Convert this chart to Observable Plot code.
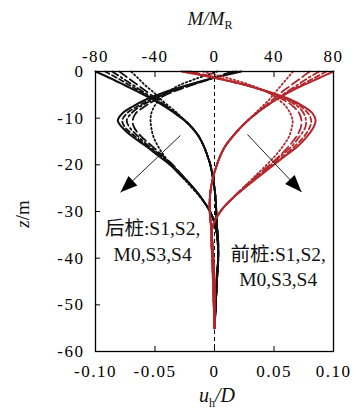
<!DOCTYPE html>
<html><head><meta charset="utf-8">
<script src="https://cdn.jsdelivr.net/npm/d3@7"></script>
<script src="https://cdn.jsdelivr.net/npm/@observablehq/plot@0.6"></script>
<style>
body{margin:0;background:#fff}
svg.chart, svg.chart text{font-family:"Liberation Serif","Times New Roman","Noto Sans CJK SC",serif}
.chart g[aria-label$="tick label"] text{letter-spacing:1.5px}
</style>
</head><body><div id="chart"></div>
<script>
// ---- data ----
const series = ["S1", "S2", "M0", "S3", "S4"];
const depthZ = [0, -1.5, -3, -4.5, -6, -7.5, -9, -10.5, -12, -14, -16, -18, -20, -22.5, -25, -27.5, -30, -33, -36, -40, -45, -50, -55];

// rear pile (后桩) deflection u_h/D, rows = S1,S2,M0,S3,S4
const rearDeflection = [
  [-0.070, -0.064, -0.058, -0.051, -0.045, -0.038, -0.031, -0.025, -0.019, -0.013, -0.009, -0.006, -0.0035, -0.0015, 0, 0.001, 0.0015, 0.002, 0.003, 0.003, 0.002, 0.001, 0],
  [-0.080, -0.072, -0.064, -0.056, -0.048, -0.040, -0.032, -0.025, -0.019, -0.013, -0.009, -0.006, -0.0035, -0.0015, 0, 0.001, 0.0015, 0.002, 0.003, 0.003, 0.002, 0.001, 0],
  [-0.086, -0.077, -0.068, -0.059, -0.050, -0.041, -0.033, -0.025, -0.019, -0.013, -0.009, -0.006, -0.0035, -0.0015, 0, 0.001, 0.0015, 0.002, 0.003, 0.003, 0.002, 0.001, 0],
  [-0.092, -0.081, -0.071, -0.061, -0.051, -0.041, -0.033, -0.025, -0.019, -0.013, -0.009, -0.006, -0.0035, -0.0015, 0, 0.001, 0.0015, 0.002, 0.003, 0.003, 0.002, 0.001, 0],
  [-0.100, -0.087, -0.075, -0.063, -0.052, -0.042, -0.033, -0.025, -0.019, -0.013, -0.009, -0.006, -0.0035, -0.0015, 0, 0.001, 0.0015, 0.002, 0.003, 0.003, 0.002, 0.001, 0]
];
// rear pile bending moment M/M_R
const rearMoment = [
  [2, -12, -24, -32, -37, -40.5, -42.5, -43, -42.5, -41, -38, -34, -29, -22, -15, -8, -3, 0.5, 2, 2.5, 1.5, 0.8, 0],
  [12, -2, -16, -29, -39, -47, -53, -55, -54, -49, -42, -35, -28, -21, -14, -8, -3, 0.5, 2, 2.5, 1.5, 0.8, 0],
  [14, -2, -17, -31, -41, -50, -56, -59, -57, -51, -44, -36, -29, -21, -14, -8, -3, 0.5, 2, 2.5, 1.5, 0.8, 0],
  [15, -2, -18, -32, -43, -52, -59, -62, -60, -53, -45, -37, -29, -21, -14, -8, -3, 0.5, 2, 2.5, 1.5, 0.8, 0],
  [18, -2, -19, -34, -46, -55, -62, -65, -62, -55, -46, -38, -30, -22, -14, -8, -3, 0.5, 2, 2.5, 1.5, 0.8, 0]
];
// front pile (前桩) deflection u_h/D
const frontDeflection = [
  [0.066, 0.061, 0.056, 0.051, 0.046, 0.040, 0.034, 0.028, 0.022, 0.015, 0.009, 0.005, 0.002, -0.001, -0.003, -0.004, -0.004, -0.003, -0.002, -0.001, 0, 0, 0],
  [0.080, 0.072, 0.064, 0.056, 0.049, 0.042, 0.035, 0.028, 0.022, 0.015, 0.009, 0.005, 0.002, -0.001, -0.003, -0.004, -0.004, -0.003, -0.002, -0.001, 0, 0, 0],
  [0.088, 0.078, 0.069, 0.060, 0.051, 0.043, 0.035, 0.028, 0.022, 0.015, 0.009, 0.005, 0.002, -0.001, -0.003, -0.004, -0.004, -0.003, -0.002, -0.001, 0, 0, 0],
  [0.094, 0.083, 0.072, 0.061, 0.052, 0.043, 0.035, 0.028, 0.022, 0.015, 0.009, 0.005, 0.002, -0.001, -0.003, -0.004, -0.004, -0.003, -0.002, -0.001, 0, 0, 0],
  [0.100, 0.087, 0.074, 0.062, 0.052, 0.043, 0.035, 0.028, 0.022, 0.015, 0.009, 0.005, 0.002, -0.001, -0.003, -0.004, -0.004, -0.003, -0.002, -0.001, 0, 0, 0]
];
// front pile bending moment M/M_R
const frontMoment = [
  [-8, 10, 25, 36, 43, 48, 51, 52.5, 52, 50, 46, 41, 35, 27, 19, 11, 4, -1, -2, -1.5, -1, -0.5, 0],
  [-16, 4, 22, 36, 46, 53, 57, 58.5, 58, 55, 50, 44, 37, 28, 19, 11, 4, -1, -2, -1.5, -1, -0.5, 0],
  [-18, 3, 22, 37, 48, 56, 60, 61.5, 61, 57, 52, 45, 38, 29, 20, 11, 4, -1, -2, -1.5, -1, -0.5, 0],
  [-20, 2, 22, 37, 49, 58, 63, 65, 64, 60, 54, 47, 39, 29, 20, 11, 4, -1, -2, -1.5, -1, -0.5, 0],
  [-22, 2, 22, 38, 51, 60, 66, 68, 66.5, 62, 56, 48, 40, 30, 20, 11, 4, -1, -2, -1.5, -1, -0.5, 0]
];

const xTicks = [-0.10, -0.05, 0, 0.05, 0.10];
const xTickLabels = ["-0.10", "-0.05", "0", "0.05", "0.10"];
const mTickLabels = ["-80", "-40", "0", "40", "80"];
const yTicks = [0, -10, -20, -30, -40, -50, -60];
const yTickLabels = ["0", "-10", "-20", "-30", "-40", "-50", "-60"];
const mPerUnit = 80 / 0.10; // top axis M/M_R over bottom axis u_h/D

const noteText = ["后桩:S1,S2,", "M0,S3,S4", "前桩:S1,S2,", "M0,S3,S4"];
const noteU = [-0.052, -0.052, 0.0535, 0.0535];
const noteZ = [-35.1, -40.7, -40.7, -45.9];

const arrowU1 = [-0.0286, 0.0277];
const arrowZ1 = [-13.7, -13.5];
const arrowU2 = [-0.079, 0.0731];
const arrowZ2 = [-25.9, -25.8];
const arrowAngle = [-133, 137];

const refLine = [{u: 0, top: 0, bottom: -59}];

// ---- styles ----
const serifFont = "'Liberation Serif', 'Times New Roman', 'Noto Sans CJK SC', serif";
const dashes = ["1.5,2.5", "9,4", "7,3,2,3", "5,3", null];
const widths = [1.8, 1.8, 1.8, 1.8, 2];
const black = "#111";
const red = "#b3282d";

const marks = [];
marks.push(Plot.ruleX(refLine, {x: "u", y1: "top", y2: "bottom", stroke: "#000", strokeWidth: 1, strokeDasharray: "4,3"}));

function addFamily(rows, color, toU) {
  rows.forEach((vals, i) => {
    const pts = depthZ.map((z, j) => ({z, u: toU(vals[j]), s: series[i]}));
    marks.push(Plot.line(pts, {x: "u", y: "z", stroke: color, strokeWidth: widths[i],
      strokeDasharray: dashes[i], curve: "catmull-rom"}));
  });
}
addFamily(rearDeflection, black, v => v);
addFamily(rearMoment, black, v => v / mPerUnit);
addFamily(frontDeflection, red, v => v);
addFamily(frontMoment, red, v => v / mPerUnit);

const arrows = arrowU1.map((u, i) => ({u1: u, z1: arrowZ1[i], u2: arrowU2[i], z2: arrowZ2[i], a: arrowAngle[i]}));
marks.push(Plot.link(arrows, {x1: "u1", y1: "z1", x2: "u2", y2: "z2", stroke: "#222", strokeWidth: 1}));
marks.push(Plot.vector(arrows, {x: "u2", y: "z2", rotate: "a", length: 17, r: 6.5, shape: "spike", anchor: "end", fill: "#000", stroke: "none"}));

const notes = noteText.map((t, i) => ({t, u: noteU[i], z: noteZ[i]}));
marks.push(Plot.text(notes, {x: "u", y: "z", text: "t", lineAnchor: "bottom", textAnchor: "middle", fontSize: 19.5, fontFamily: serifFont, fill: "#111"}));

marks.push(Plot.frame({stroke: "#000", strokeWidth: 1.3}));
marks.push(Plot.axisX(xTicks, {anchor: "bottom", tickSize: -5, tickPadding: 18, label: null, fontFamily: serifFont, fontSize: 17,
  tickFormat: d => xTickLabels[xTicks.indexOf(d)]}));
marks.push(Plot.axisX(xTicks, {anchor: "top", tickSize: -5, tickPadding: 15, label: null, fontFamily: serifFont, fontSize: 17,
  tickFormat: d => mTickLabels[xTicks.indexOf(d)]}));
marks.push(Plot.axisY(yTicks, {anchor: "left", tickSize: -5, tickPadding: 16, label: null, fontFamily: serifFont, fontSize: 17,
  tickFormat: d => yTickLabels[yTicks.indexOf(d)]}));

const chart = Plot.plot({
  width: 360, height: 411,
  marginLeft: 95, marginRight: 27, marginTop: 71, marginBottom: 60,
  className: "chart",
  x: {domain: [-0.1, 0.1]},
  y: {domain: [-60, 0]},
  style: "font-family: 'Liberation Serif', 'Times New Roman', serif; font-size: 17px; background: #fff; color: #000;",
  marks
});

// axis titles with italic / subscript parts
const svgSel = d3.select(chart);
const topTitle = svgSel.append("text").attr("x", 210).attr("y", 25).attr("text-anchor", "middle").attr("font-size", 19).attr("font-family", serifFont).attr("fill", "#111");
topTitle.append("tspan").attr("font-style", "italic").text("M/M");
topTitle.append("tspan").attr("font-size", 12).attr("dy", 4).text("R");
const botTitle = svgSel.append("text").attr("x", 217).attr("y", 402).attr("text-anchor", "middle").attr("font-size", 20).attr("font-family", serifFont).attr("fill", "#111");
botTitle.append("tspan").attr("font-style", "italic").text("u");
botTitle.append("tspan").attr("font-size", 12).attr("dy", 5).text("h");
botTitle.append("tspan").attr("font-style", "italic").attr("dy", -5).text("/D");
const leftTitle = svgSel.append("text").attr("transform", "translate(29,214) rotate(-90)").attr("text-anchor", "middle").attr("font-size", 19).attr("font-family", serifFont).attr("fill", "#111");
leftTitle.append("tspan").attr("font-style", "italic").text("z");
leftTitle.append("tspan").text("/m");

document.getElementById("chart").appendChild(chart);
</script>
</body></html>
